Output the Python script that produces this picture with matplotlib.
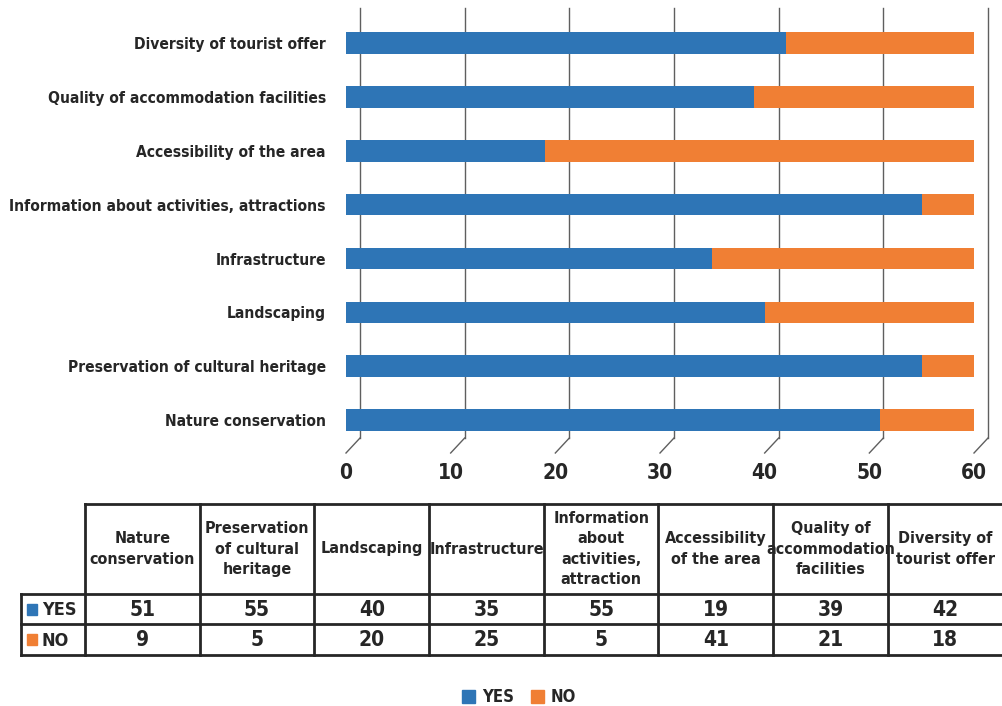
#!/usr/bin/env python3
"""Stacked YES/NO bar chart of tourism factors with a data table below."""
import matplotlib
matplotlib.use("Agg")
import matplotlib.pyplot as plt
import matplotlib.transforms as mtransforms
from matplotlib.patches import Patch, Rectangle

plt.rcParams["font.family"] = ["DejaVu Sans"]
plt.rcParams["font.stretch"] = "condensed"
plt.rcParams["font.weight"] = "bold"

CATEGORIES = [
    "Nature conservation",
    "Preservation of cultural heritage",
    "Landscaping",
    "Infrastructure",
    "Information about activities, attractions",
    "Accessibility of the area",
    "Quality of accommodation facilities",
    "Diversity of tourist offer",
]
TABLE_HEADERS = [
    "Nature\nconservation",
    "Preservation\nof cultural\nheritage",
    "Landscaping",
    "Infrastructure",
    "Information\nabout\nactivities,\nattraction",
    "Accessibility\nof the area",
    "Quality of\naccommodation\nfacilities",
    "Diversity of\ntourist offer",
]
YES = [51, 55, 40, 35, 55, 19, 39, 42]
NO = [9, 5, 20, 25, 5, 41, 21, 18]
X_TICKS = [0, 10, 20, 30, 40, 50, 60]

BLUE = "#2E75B6"
ORANGE = "#F07F34"
TEXT = "#262626"
GRID = "#5f5f5f"

W, H = 1003, 706
fig = plt.figure(figsize=(W / 100, H / 100), dpi=100)

# chart area in pixel terms: front plane from x=346..974, y=8..453
ax = fig.add_axes([346 / W, 1 - 453 / H, 628 / W, 445 / H])
ax.set_xlim(0, 60)
ax.set_ylim(-0.61, len(CATEGORIES) - 1 + 0.65)

# back wall offset for the pseudo-3D gridlines
depth_x = 14 / 628 * 60
depth_y = 15 / 445
blend = mtransforms.blended_transform_factory(ax.transData, ax.transAxes)
for v in X_TICKS:
    ax.plot([v + depth_x, v + depth_x], [depth_y, 1], color=GRID, lw=1.0,
            transform=blend, clip_on=False, zorder=1)
    ax.plot([v + depth_x, v], [depth_y, 0], color=GRID, lw=1.0,
            transform=blend, clip_on=False, zorder=1)

ypos = range(len(CATEGORIES))
ax.barh(ypos, YES, height=0.40, color=BLUE, zorder=3)
ax.barh(ypos, NO, left=YES, height=0.40, color=ORANGE, zorder=3)

ax.set_yticks(list(ypos))
ax.set_yticklabels(CATEGORIES, fontsize=11.2, color=TEXT)
ax.set_xticks(X_TICKS)
ax.set_xticklabels([str(v) for v in X_TICKS], fontsize=15, color=TEXT)
ax.tick_params(axis="y", length=0, pad=14.5)
ax.tick_params(axis="x", length=0, pad=7)
for s in ax.spines.values():
    s.set_visible(False)

# data table drawn on a full-figure overlay in pixel units
tab = fig.add_axes([0, 0, 1, 1])
tab.set_xlim(0, W)
tab.set_ylim(H, 0)
tab.axis("off")

left = 21
label_w = 64
col_w = 114.7
row_top, head_bot, yes_bot, no_bot = 504, 594, 624, 655
x0 = left + label_w
lc = "#262626"

tab.plot([x0, W], [row_top, row_top], color=lc, lw=2)
for yy in (head_bot, yes_bot, no_bot):
    tab.plot([left, W], [yy, yy], color=lc, lw=2)
tab.plot([left, left], [head_bot, no_bot], color=lc, lw=2)
for i in range(len(TABLE_HEADERS)):
    xv = x0 + i * col_w
    tab.plot([xv, xv], [row_top, no_bot], color=lc, lw=2)

for i, (hdr, y, n) in enumerate(zip(TABLE_HEADERS, YES, NO)):
    cx = x0 + (i + 0.5) * col_w
    tab.text(cx, (row_top + head_bot) / 2, hdr, ha="center", va="center",
             fontsize=11.5, color=TEXT, linespacing=1.45)
    tab.text(cx, (head_bot + yes_bot) / 2 + 1, str(y), ha="center", va="center",
             fontsize=15, color=TEXT)
    tab.text(cx, (yes_bot + no_bot) / 2, str(n), ha="center", va="center",
             fontsize=15, color=TEXT)

for name, color, top, bot in (("YES", BLUE, head_bot, yes_bot),
                              ("NO", ORANGE, yes_bot, no_bot)):
    cy = (top + bot) / 2
    tab.add_patch(Rectangle((27, cy - 5.5), 10, 11, color=color))
    tab.text(42, cy + 1, name, ha="left", va="center", fontsize=13, color=TEXT)

handles = [Patch(color=BLUE, label="YES"), Patch(color=ORANGE, label="NO")]
fig.legend(handles=handles, loc="center", bbox_to_anchor=(519 / W, 1 - 697 / H),
           ncol=2, frameon=False, handlelength=0.8, handleheight=0.8,
           handletextpad=0.4, columnspacing=1.0,
           prop={"size": 12, "weight": "bold", "stretch": "condensed"},
           labelcolor=TEXT)

fig.savefig("out.png", dpi=100, facecolor="white")
